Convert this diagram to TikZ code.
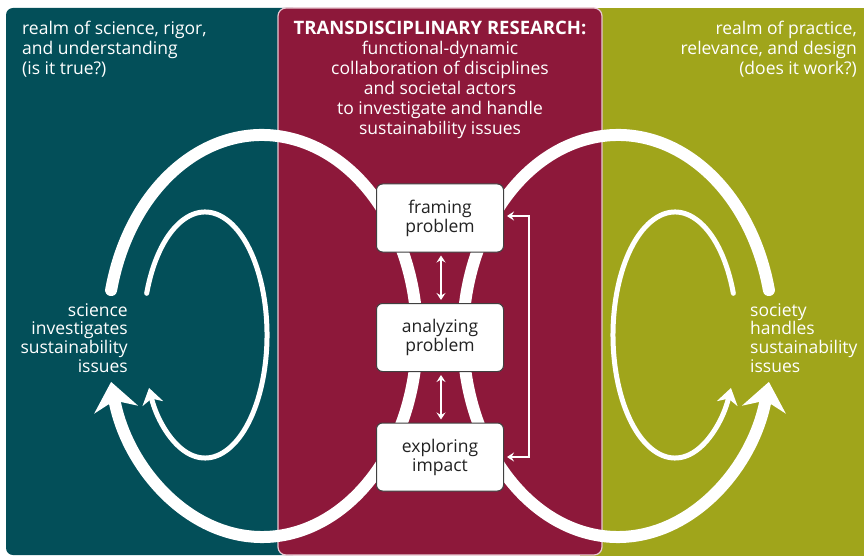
\documentclass[tikz,border=0pt]{standalone}
\usepackage{fontspec}
\setmainfont{Open Sans}
\usetikzlibrary{arrows.meta}
\definecolor{tdteal}{RGB}{3,79,89}
\definecolor{tdred}{RGB}{141,24,58}
\definecolor{tdolive}{RGB}{160,165,27}
\definecolor{tdborder}{RGB}{233,200,210}
\definecolor{tdtext}{RGB}{34,34,34}
\newcommand{\mylines}[2]{\begin{tabular}[t]{@{}#1@{}}#2\end{tabular}}
\begin{document}
\begin{tikzpicture}[x=1pt,y=-1pt,
  txt/.style={text=white, inner sep=0pt, font=\fontsize{17.5}{20}\selectfont},
  midtxt/.style={text=white, inner sep=0pt, font=\fontsize{17.5}{18.7}\selectfont},
  bigloop/.style={white, line width=12pt, line cap=round, -{Stealth[length=28pt,width=44pt,inset=9pt]}},
  smallloop/.style={white, line width=5pt, line cap=round, -{Stealth[length=16pt,width=21pt,inset=5pt]}},
  stepbox/.style={draw=black!75, line width=1pt, fill=white, rounded corners=6pt, minimum width=127pt, minimum height=68pt, inner sep=0pt, align=center, text=tdtext, font=\fontsize{17.5}{19}\selectfont},
  link/.style={white, line width=2pt, {Stealth[length=7pt,width=9pt,inset=2.5pt]}-{Stealth[length=7pt,width=9pt,inset=2.5pt]}}
]
\useasboundingbox (0,0) rectangle (864,556);
% panels
\fill[tdteal, rounded corners=7pt] (6,8) rectangle (300,555);
\fill[tdolive] (580,8) rectangle (864,556);
\filldraw[fill=tdred, draw=tdborder, line width=1.2pt, rounded corners=8pt] (278,8) rectangle (602,555);
% loops
\draw[bigloop] (111.10,290.10) arc[start angle=193.2, end angle=526.8, x radius=155, y radius=201];
\draw[bigloop] (768.90,290.10) arc[start angle=-13.2, end angle=-346.8, x radius=155, y radius=201];
\draw[smallloop] (146.67,293.33) arc[start angle=199.8, end angle=514.5, x radius=62, y radius=123];
\draw[smallloop] (733.33,293.33) arc[start angle=-19.8, end angle=-334.5, x radius=62, y radius=123];
% boxes
\node[stepbox] (frame) at (440,218) {framing\\problem};
\node[stepbox] (analyze) at (440,337.5) {analyzing\\problem};
\node[stepbox] (explore) at (440,457) {exploring\\impact};
\draw[link, shorten <=3pt, shorten >=3pt] ([xshift=1pt]frame.south) -- ([xshift=1pt]analyze.north);
\draw[link, shorten <=3pt, shorten >=3pt] ([xshift=1pt]analyze.south) -- ([xshift=1pt]explore.north);
\draw[link] ([xshift=3pt]explore.east) -- ++(22,0) |- ([xshift=3pt,yshift=2pt]frame.east);
% texts
\node[txt, anchor=base west] (tl) at (22,35) {\mylines{l}{realm of science, rigor,\\and understanding\\(is it true?)}};
\node[txt, anchor=base east] (tr) at (857,35) {\mylines{r}{realm of practice,\\relevance, and design\\(does it work?)}};
\node[txt, anchor=base] (title) at (440,35) {\mylines{c}{{\fontsize{18.5}{20}\selectfont\bfseries TRANSDISCIPLINARY RESEARCH:}\\functional-dynamic\\collaboration of disciplines\\and societal actors\\to investigate and handle\\sustainability issues}};
\node[midtxt, anchor=base east] (sci) at (128,316) {\mylines{r}{science\\investigates\\sustainability\\issues}};
\node[midtxt, anchor=base west] (soc) at (750,316) {\mylines{l}{society\\handles\\sustainability\\issues}};
\end{tikzpicture}
\end{document}
